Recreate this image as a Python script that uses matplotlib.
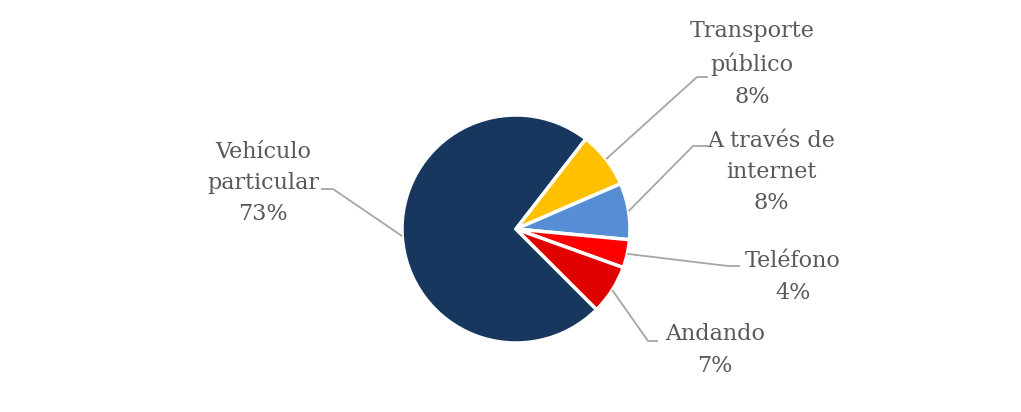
import numpy as np
import matplotlib.pyplot as plt

# modo de desplazamiento (%)
categorias = ["Vehículo\nparticular", "Transporte\npúblico", "A través de\ninternet",
              "Teléfono", "Andando"]
valores = [73, 8, 8, 4, 7]
colores = ["#17375E", "#FFC000", "#558ED5", "#FF0000", "#E00000"]

W, H = 1021, 412
fig = plt.figure(figsize=(W / 100, H / 100), dpi=100)
ax = fig.add_axes([0, 0, 1, 1])

cx, cy, r = 516, H - 229, 114
wedges, _ = ax.pie(valores, colors=colores, startangle=-45, counterclock=False,
                   center=(cx, cy), radius=r,
                   wedgeprops=dict(edgecolor="white", linewidth=2.5))

# pie() cambia los límites, así que se fijan después
ax.set_xlim(0, W)
ax.set_ylim(0, H)
ax.set_aspect("equal")
ax.axis("off")

# posiciones de etiqueta: (codo, fin de la guía, centro del texto) en px desde arriba
guias = [
    ((333, 189), (321, 189), (263, 183)),
    ((697, 77), (708, 77), (752, 64)),
    ((693, 146), (708, 146), (771, 172)),
    ((728, 266), (740, 266), (793, 277)),
    ((648, 341), (658, 341), (715, 350)),
]

for w, cat, v, (codo, fin, txt) in zip(wedges, categorias, valores, guias):
    ang = np.deg2rad((w.theta1 + w.theta2) / 2)
    x0, y0 = cx + r * np.cos(ang), cy + r * np.sin(ang)
    ax.plot([x0, codo[0], fin[0]], [y0, H - codo[1], H - fin[1]],
            color="#A6A6A6", lw=1.3, solid_capstyle="butt", zorder=1)
    ax.text(txt[0], H - txt[1], f"{cat}\n{v}%", ha="center", va="center",
            fontsize=16, family="DejaVu Serif", color="#595959", linespacing=1.55)

fig.savefig("out.png", dpi=100, facecolor="white")
